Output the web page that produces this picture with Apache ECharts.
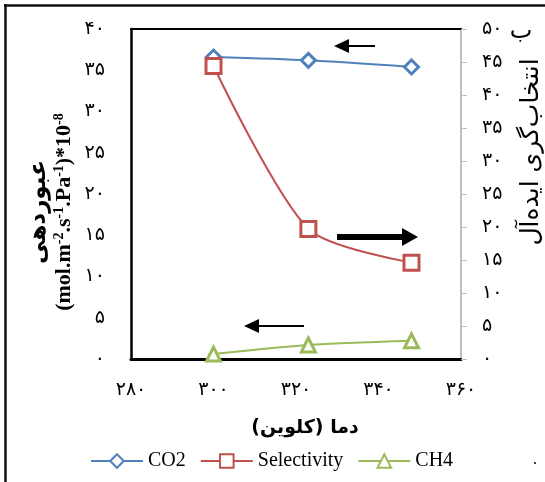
<!DOCTYPE html>
<html>
<head>
<meta charset="utf-8">
<script src="https://cdn.jsdelivr.net/npm/echarts@6/dist/echarts.min.js"></script>
<style>
  html, body { margin: 0; padding: 0; background: #fff; }
  #chart { width: 545px; height: 482px; }
</style>
</head>
<body>
<div id="chart"></div>
<script>
// Temperature (K)
const temperatures = [300, 323, 348];
// Permeance, (mol.m-2.s-1.Pa-1)*10^-8
const co2Permeance = [36.6, 36.2, 35.4];
const ch4Permeance = [0.6, 1.7, 2.2];
// Ideal selectivity CO2/CH4
const selectivity = [44.4, 19.7, 14.6];

const xTicks = { min: 280, max: 360, step: 20 };
const leftTicks = { min: 0, max: 40, step: 5 };
const rightTicks = { min: 0, max: 50, step: 5 };

const faDigits = '۰۱۲۳۴۵۶۷۸۹';
const toFa = v => String(v).replace(/\d/g, d => faDigits[d]);

const pairs = ys => temperatures.map((t, i) => [t, ys[i]]);

const FA_FONT = 'DejaVu Sans';
const EN_FONT = 'Liberation Serif';
const SMOOTH = 0.26;

const chart = echarts.init(document.getElementById('chart'), null, { renderer: 'canvas' });

const arrow = (x1, x2, y, lw, headLen, headHalf) => {
  const dir = x2 > x1 ? 1 : -1;
  const baseX = x2 - dir * headLen;
  return [
    { type: 'line', shape: { x1: x1, y1: y, x2: baseX, y2: y }, style: { stroke: '#000', lineWidth: lw } },
    { type: 'polygon', shape: { points: [[x2, y], [baseX, y - headHalf], [baseX, y + headHalf]] }, style: { fill: '#000' } }
  ];
};

chart.setOption({
  animation: false,
  backgroundColor: '#fff',
  grid: { left: 131, top: 29, right: 84, bottom: 123, containLabel: false },
  xAxis: [
    {
      type: 'value', min: xTicks.min, max: xTicks.max, interval: xTicks.step,
      position: 'bottom',
      name: 'دما (کلوین)', nameLocation: 'middle', nameGap: 60,
      nameTextStyle: { fontFamily: FA_FONT, fontWeight: 'bold', fontSize: 19, color: '#000', padding: [0, 0, 0, 18] },
      axisLine: { show: true, onZero: false, lineStyle: { color: '#000', width: 3 } },
      axisTick: { show: false },
      splitLine: { show: false },
      axisLabel: { formatter: v => toFa(v), fontFamily: FA_FONT, fontSize: 19, color: '#000', margin: 22 }
    },
    {
      type: 'value', min: xTicks.min, max: xTicks.max, position: 'top',
      axisLine: { show: true, onZero: false, lineStyle: { color: '#000', width: 2 } },
      axisTick: { show: false }, axisLabel: { show: false }, splitLine: { show: false }
    }
  ],
  yAxis: [
    {
      type: 'value', min: leftTicks.min, max: leftTicks.max, interval: leftTicks.step,
      position: 'left',
      axisLine: { show: true, onZero: false, lineStyle: { color: '#000', width: 2.5 } },
      axisTick: { show: false },
      splitLine: { show: false },
      axisLabel: { formatter: v => toFa(v), fontFamily: FA_FONT, fontSize: 19, color: '#000', margin: 26 }
    },
    {
      type: 'value', min: rightTicks.min, max: rightTicks.max, interval: rightTicks.step,
      position: 'right',
      axisLine: { show: true, onZero: false, lineStyle: { color: '#bfbfbf', width: 2 } },
      axisTick: { show: true, length: 6, lineStyle: { color: '#bfbfbf', width: 1 } },
      splitLine: { show: false },
      axisLabel: { formatter: v => toFa(v), fontFamily: FA_FONT, fontSize: 19, color: '#000', margin: 21 }
    }
  ],
  legend: {
    left: 85, top: 446,
    itemWidth: 52, itemHeight: 17, itemGap: 14,
    textStyle: { fontFamily: EN_FONT, fontSize: 20, color: '#000' },
    data: ['CO2', 'Selectivity', 'CH4']
  },
  series: [
    {
      name: 'CO2', type: 'line', yAxisIndex: 0, smooth: SMOOTH,
      data: pairs(co2Permeance),
      symbol: 'diamond', symbolSize: 14,
      lineStyle: { color: '#4F81BD', width: 2 },
      itemStyle: { color: '#fff', borderColor: '#4F81BD', borderWidth: 3 }
    },
    {
      name: 'Selectivity', type: 'line', yAxisIndex: 1, smooth: SMOOTH,
      data: pairs(selectivity),
      symbol: 'rect', symbolSize: 15,
      lineStyle: { color: '#C0504D', width: 2 },
      itemStyle: { color: '#fff', borderColor: '#C0504D', borderWidth: 3 }
    },
    {
      name: 'CH4', type: 'line', yAxisIndex: 0, smooth: SMOOTH,
      data: pairs(ch4Permeance),
      symbol: 'triangle', symbolSize: 14,
      lineStyle: { color: '#9BBB59', width: 2 },
      itemStyle: { color: '#fff', borderColor: '#9BBB59', borderWidth: 3 }
    }
  ],
  graphic: [
    // outer frame
    { type: 'line', shape: { x1: 4, y1: 5.5, x2: 545, y2: 5.5 }, style: { stroke: '#111', lineWidth: 2.5 } },
    { type: 'line', shape: { x1: 5.5, y1: 4, x2: 5.5, y2: 482 }, style: { stroke: '#111', lineWidth: 2.5 } },
    // left axis title
    {
      type: 'text', x: 52, y: 212, rotation: Math.PI / 2,
      style: {
        text: '{fa|عبوردهی}\n{en|(mol.m}{sup|-2}{en|.s}{sup|-1}{en|.Pa}{sup|-1}{en|)*10}{sup|-8}',
        align: 'center', verticalAlign: 'middle', fill: '#000',
        rich: {
          fa: { fontFamily: FA_FONT, fontWeight: 'bold', fontSize: 23, lineHeight: 25, align: 'center' },
          en: { fontFamily: EN_FONT, fontWeight: 'bold', fontSize: 22, lineHeight: 25 },
          sup: { fontFamily: EN_FONT, fontWeight: 'bold', fontSize: 14, lineHeight: 25, verticalAlign: 'top' }
        }
      }
    },
    // right axis title
    {
      type: 'text', x: 531, y: 152, rotation: Math.PI / 2,
      style: {
        text: 'انتخاب‌گری ایده‌آل',
        align: 'center', verticalAlign: 'middle', fill: '#000',
        fontFamily: FA_FONT, fontSize: 25
      }
    },
    // panel letter
    { type: 'text', x: 521, y: 32, style: { text: 'ب', align: 'center', verticalAlign: 'middle', fontFamily: FA_FONT, fontSize: 24, fill: '#000' } },
    { type: 'text', x: 535, y: 460, style: { text: '.', align: 'center', verticalAlign: 'middle', fontFamily: EN_FONT, fontSize: 16, fill: '#000' } },
    // direction arrows
    ...arrow(375, 334, 46, 2, 15, 7),
    ...arrow(337, 418, 237, 6, 16, 9),
    ...arrow(304, 244, 326, 2, 15, 7)
  ]
});
</script>
</body>
</html>
